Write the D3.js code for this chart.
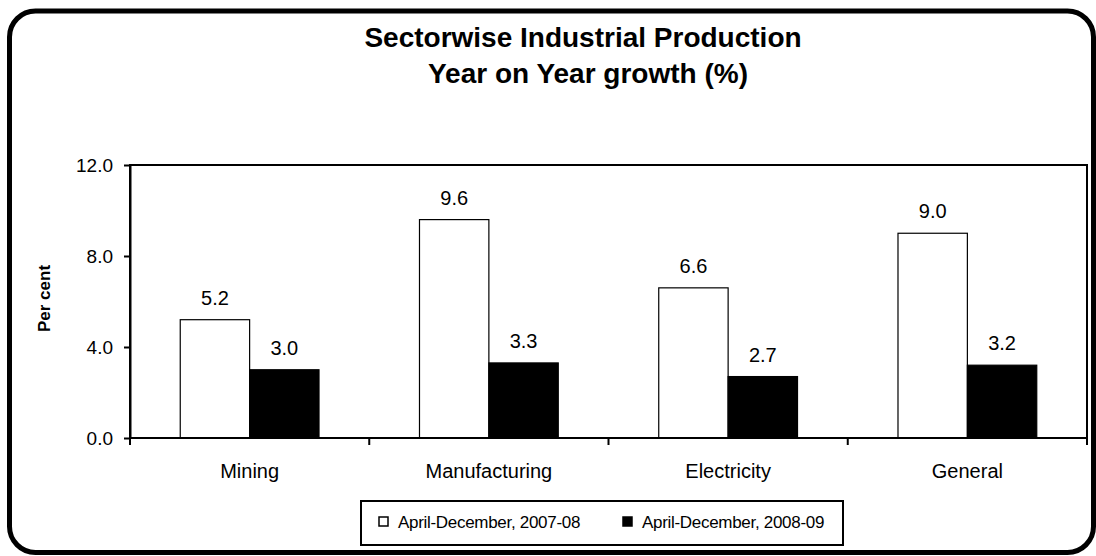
<!DOCTYPE html>
<html>
<head>
<meta charset="utf-8">
<script src="https://cdn.jsdelivr.net/npm/d3@7"></script>
<style>
  body { margin: 0; background: #fff; }
  svg text { font-family: "Liberation Sans", Arial, sans-serif; fill: #000; }
</style>
</head>
<body>
<svg id="chart" width="1096" height="556"></svg>
<script>
// data
const sectors = ["Mining", "Manufacturing", "Electricity", "General"];
const seriesNames = ["April-December, 2007-08", "April-December, 2008-09"];
const growth0708 = [5.2, 9.6, 6.6, 9.0];
const growth0809 = [3.0, 3.3, 2.7, 3.2];
const yTicks = [0, 4, 8, 12];

const seriesValues = [growth0708, growth0809];
const fills = ["#ffffff", "#000000"];

const margin = {top: 165, right: 9, bottom: 118, left: 130};
const W = 1096, H = 556;
const width = W - margin.left - margin.right,
      height = H - margin.top - margin.bottom;

const svg = d3.select("#chart");

// outer rounded frame
svg.append("rect")
  .attr("x", 9.5).attr("y", 11)
  .attr("width", 1084).attr("height", 541.5)
  .attr("rx", 26).attr("ry", 26)
  .attr("fill", "none")
  .attr("stroke", "#000")
  .attr("stroke-width", 5);

// title
const title = svg.append("text")
  .attr("text-anchor", "middle")
  .style("font-weight", "bold")
  .style("font-size", "28px");
title.append("tspan").attr("x", 583).attr("y", 47).text("Sectorwise Industrial Production");
title.append("tspan").attr("x", 588).attr("y", 83).text("Year on Year growth (%)");

const g = svg.append("g")
  .attr("transform", `translate(${margin.left},${margin.top})`);

// scales
const x0 = d3.scaleBand()
  .domain(sectors)
  .range([0, width])
  .paddingInner(0.42)
  .paddingOuter(0.21);

const x1 = d3.scaleBand()
  .domain(d3.range(seriesNames.length))
  .range([0, x0.bandwidth()]);

const y = d3.scaleLinear()
  .domain([0, 12])
  .range([height, 0]);

// plot box
g.append("rect")
  .attr("x", 0).attr("y", 0)
  .attr("width", width).attr("height", height)
  .attr("fill", "none")
  .attr("stroke", "#000")
  .attr("stroke-width", 2);

// bars
const groups = g.selectAll(".grp")
  .data(sectors)
  .join("g")
    .attr("class", "grp")
    .attr("transform", d => `translate(${x0(d)},0)`);

groups.selectAll("rect")
  .data((d, i) => seriesValues.map((vals, s) => ({s: s, v: vals[i]})))
  .join("rect")
    .attr("x", d => x1(d.s))
    .attr("y", d => y(d.v))
    .attr("width", x1.bandwidth())
    .attr("height", d => height - y(d.v))
    .attr("fill", d => fills[d.s])
    .attr("stroke", "#000")
    .attr("stroke-width", 1.2);

groups.selectAll("text.val")
  .data((d, i) => seriesValues.map((vals, s) => ({s: s, v: vals[i]})))
  .join("text")
    .attr("class", "val")
    .attr("x", d => x1(d.s) + x1.bandwidth() / 2)
    .attr("y", d => y(d.v) - 15)
    .attr("text-anchor", "middle")
    .style("font-size", "20px")
    .text(d => d.v.toFixed(1));

// y axis
const yAxis = g.append("g")
  .call(d3.axisLeft(y).tickValues(yTicks).tickSize(6).tickSizeOuter(0).tickFormat(d3.format(".1f")));
yAxis.select(".domain").attr("stroke-width", 2);
yAxis.selectAll(".tick line").attr("stroke-width", 2);
yAxis.selectAll(".tick text")
  .attr("x", -17)
  .style("font-size", "19px")
  .style("font-family", "Liberation Sans, Arial, sans-serif");

// x axis: ticks at category boundaries
const xAxis = g.append("g")
  .attr("transform", `translate(0,${height})`);
xAxis.append("line")
  .attr("x1", 0).attr("x2", width)
  .attr("stroke", "#000").attr("stroke-width", 2);
const bounds = sectors.map(d => x0(d) - x0.step() * x0.paddingInner() / 2).concat([width]);
xAxis.selectAll("line.tk")
  .data(bounds)
  .join("line")
    .attr("class", "tk")
    .attr("x1", d => d).attr("x2", d => d)
    .attr("y1", 0).attr("y2", 7)
    .attr("stroke", "#000").attr("stroke-width", 2);
xAxis.selectAll("text")
  .data(sectors)
  .join("text")
    .attr("x", d => x0(d) + x0.bandwidth() / 2)
    .attr("y", 40)
    .attr("text-anchor", "middle")
    .style("font-size", "20px")
    .text(d => d);

// y axis title
svg.append("text")
  .attr("transform", `translate(50,${margin.top + height / 2 - 3}) rotate(-90)`)
  .attr("text-anchor", "middle")
  .style("font-weight", "bold")
  .style("font-size", "17px")
  .text("Per cent");

// legend
const legend = svg.append("g");
legend.append("rect")
  .attr("x", 361).attr("y", 501)
  .attr("width", 482).attr("height", 44)
  .attr("fill", "#fff")
  .attr("stroke", "#000")
  .attr("stroke-width", 2);
const legX = [379, 623];
const items = legend.selectAll("g.item")
  .data(seriesNames)
  .join("g")
    .attr("class", "item")
    .attr("transform", (d, i) => `translate(${legX[i]},0)`);
items.append("rect")
  .attr("x", 0).attr("y", 517)
  .attr("width", 9).attr("height", 9)
  .attr("fill", (d, i) => fills[i])
  .attr("stroke", "#000")
  .attr("stroke-width", 1.5);
items.append("text")
  .attr("x", 19).attr("y", 528)
  .style("font-size", "17px")
  .style("letter-spacing", "-0.3px")
  .text(d => d);
</script>
</body>
</html>
